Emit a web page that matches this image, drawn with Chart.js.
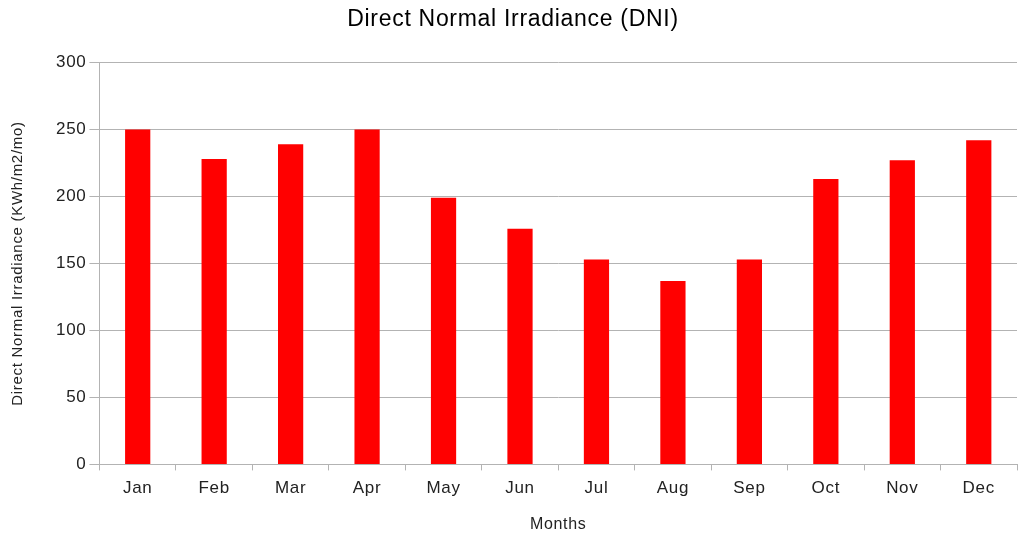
<!DOCTYPE html>
<html><head><meta charset="utf-8">
<script src="https://cdn.jsdelivr.net/npm/chart.js@4"></script>
<style>html,body{margin:0;padding:0;background:#fff}#wrap{width:1019px;height:534px}</style>
</head><body><div id="wrap"><canvas id="c"></canvas></div>
<script>
const months = ["Jan","Feb","Mar","Apr","May","Jun","Jul","Aug","Sep","Oct","Nov","Dec"];
const dniValues = [250, 228, 239, 250, 199, 176, 153, 137, 153, 213, 227, 242];
const yTicks = [0, 50, 100, 150, 200, 250, 300];
const FONT = "'Liberation Sans', Arial, sans-serif";
const GRID = '#b3b3b3';
const TEXT = '#222';
const spacing = {
  id: 'spacing',
  beforeLayout(chart) { chart.ctx.letterSpacing = '0.7px'; },
  beforeDraw(chart) { chart.ctx.letterSpacing = '0.7px'; }
};
new Chart(document.getElementById('c'), {
  type: 'bar',
  data: { labels: months, datasets: [{ data: dniValues, backgroundColor: '#ff0000', borderWidth: 0, barPercentage: 0.66, categoryPercentage: 0.5 }] },
  plugins: [spacing],
  options: {
    responsive: true, maintainAspectRatio: false, animation: false,
    layout: { padding: { left: 9, right: 2, top: 0, bottom: 0 } },
    plugins: {
      legend: { display: false }, tooltip: { enabled: false },
      title: { display: true, text: 'Direct Normal Irradiance (DNI)', color: '#000', font: { family: FONT, size: 23, weight: 'normal' }, padding: { top: 6, bottom: 29 } }
    },
    scales: {
      x: {
        grid: { offset: true, color: c => c.index === months.length ? GRID : 'transparent', tickColor: GRID, tickLength: 6, drawOnChartArea: true },
        border: { color: GRID },
        ticks: { color: TEXT, font: { family: FONT, size: 17 }, padding: 8 },
        title: { display: true, text: 'Months', color: TEXT, font: { family: FONT, size: 16 }, padding: { top: 8, bottom: 0 } }
      },
      y: {
        min: 0, max: 300,
        afterBuildTicks: ax => { ax.ticks = yTicks.map(v => ({ value: v })); },
        grid: { color: GRID, tickColor: GRID, tickLength: 10 },
        border: { color: GRID },
        ticks: { color: TEXT, font: { family: FONT, size: 17 }, padding: 3 },
        title: { display: true, text: 'Direct Normal Irradiance (KWh/m2/mo)', color: TEXT, font: { family: FONT, size: 15 }, padding: { top: 0, bottom: 26 } }
      }
    }
  }
});
</script></body></html>
